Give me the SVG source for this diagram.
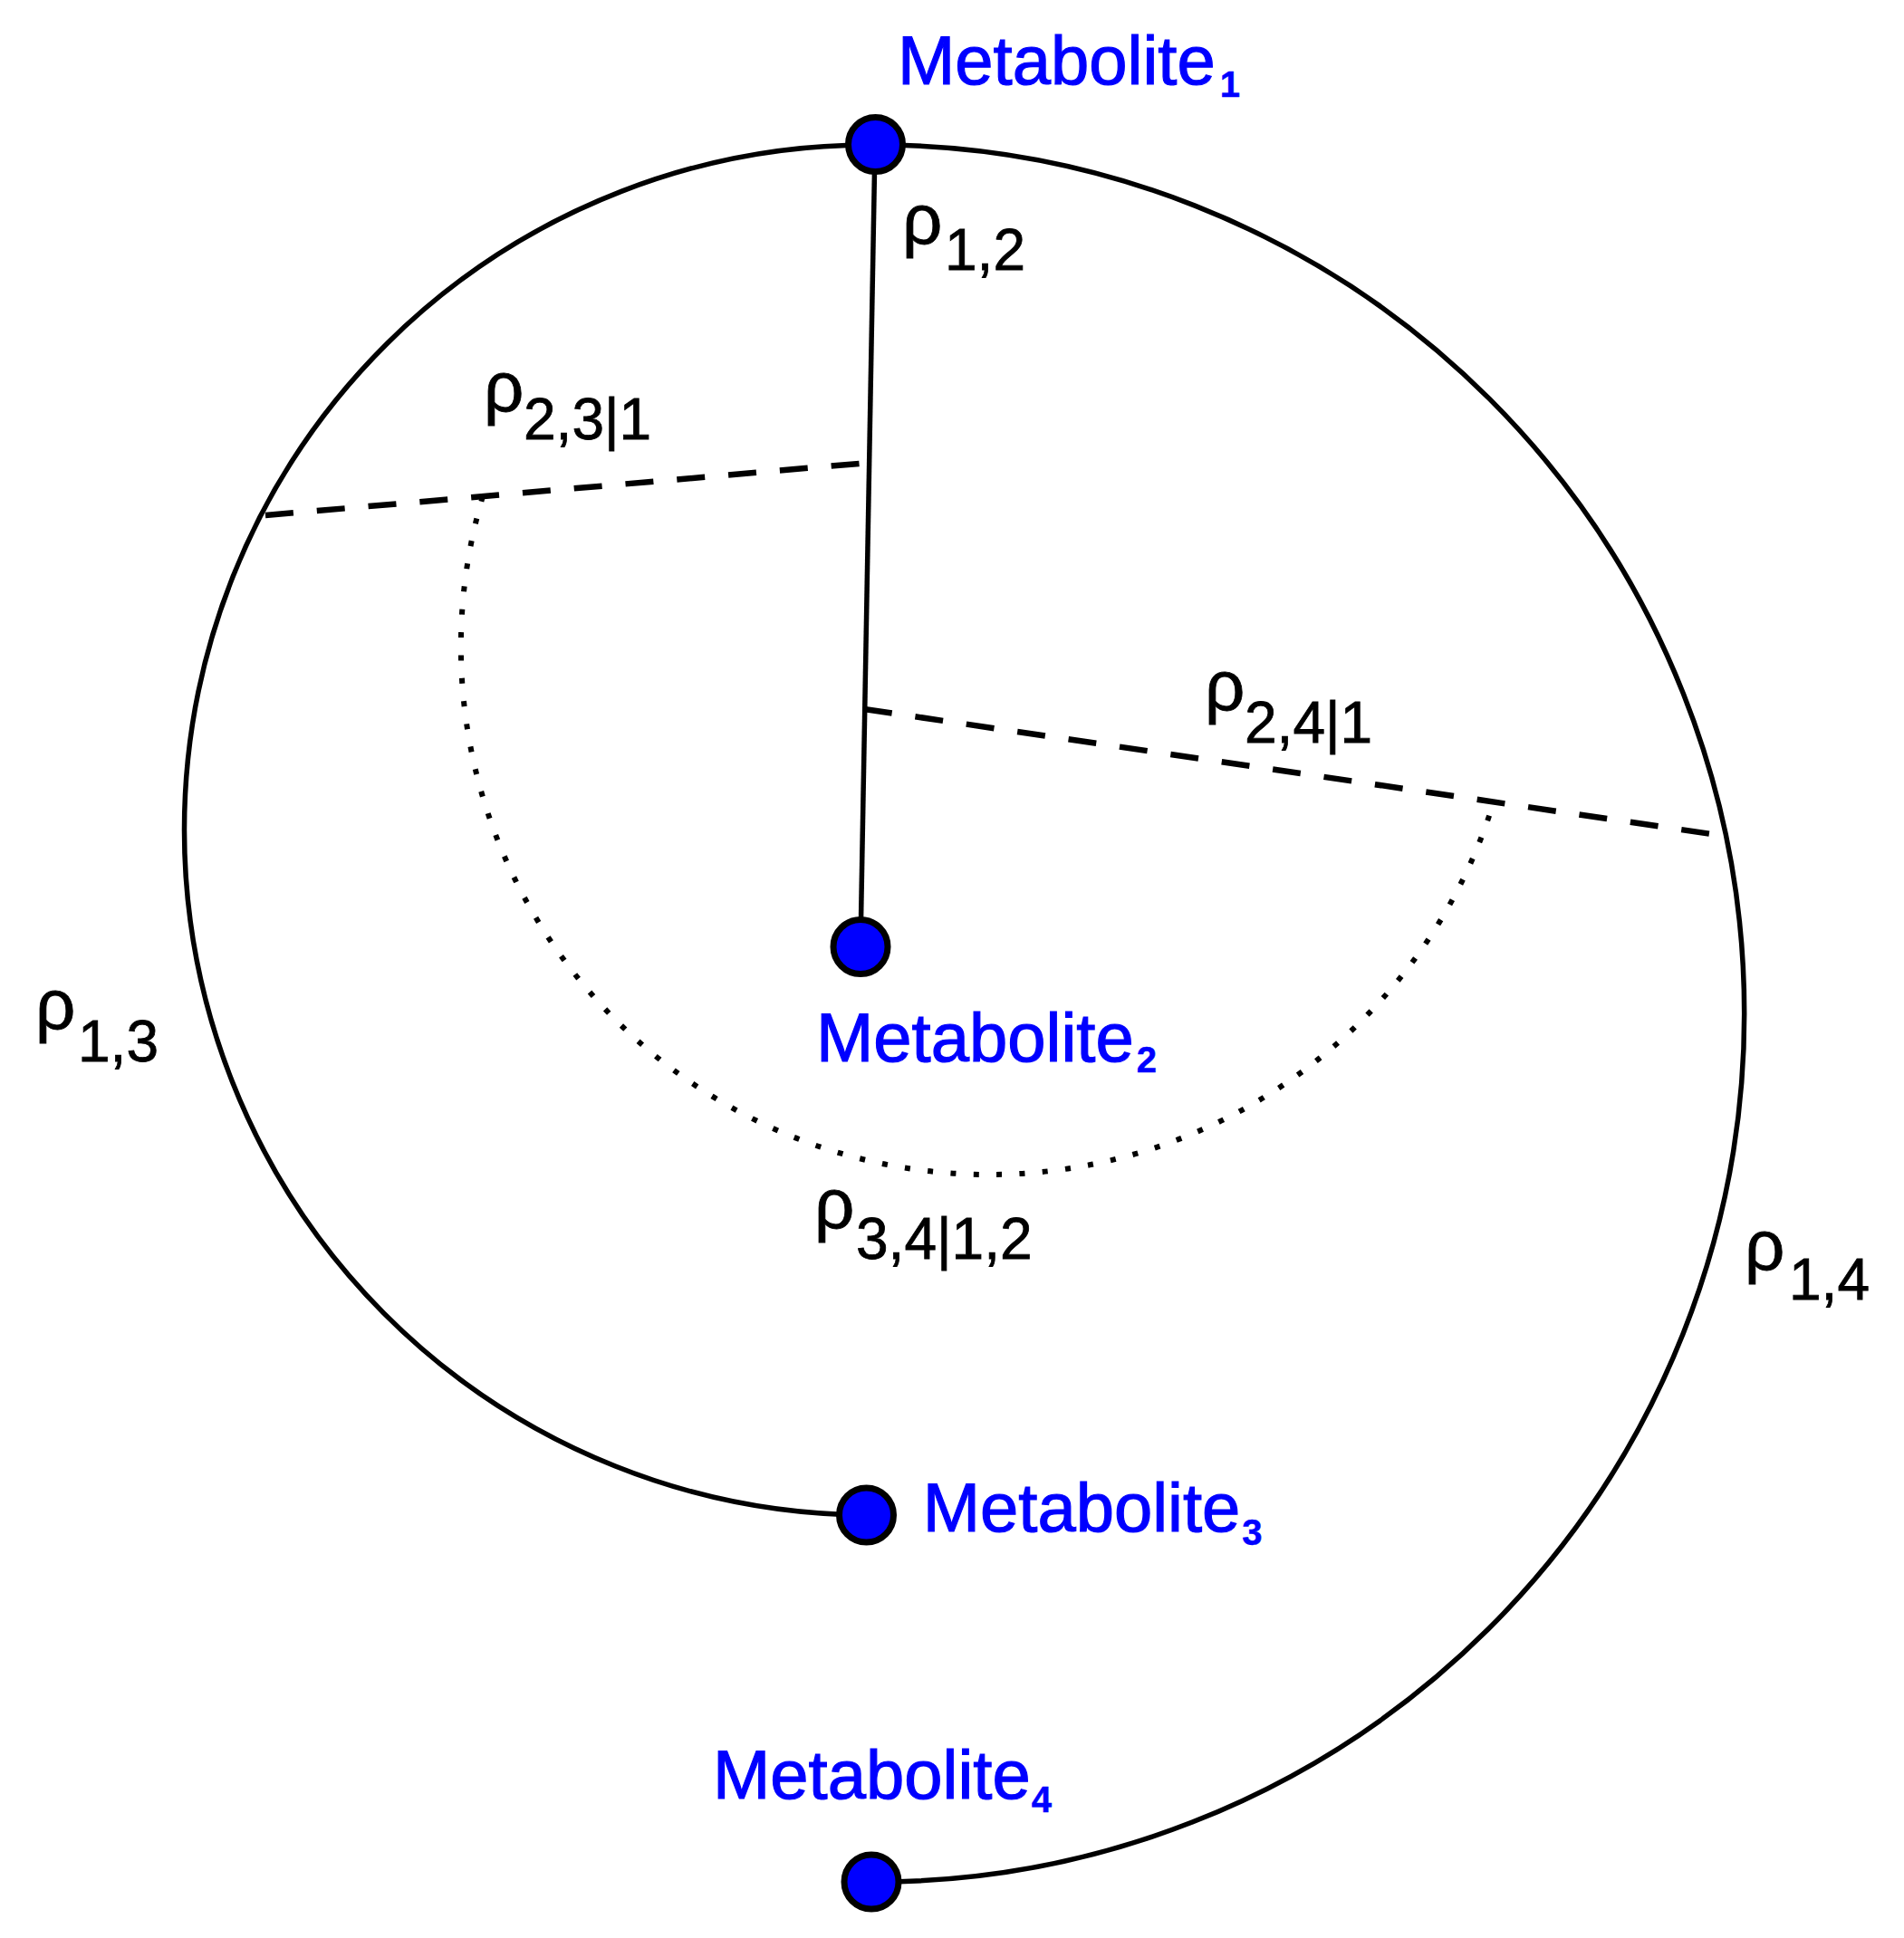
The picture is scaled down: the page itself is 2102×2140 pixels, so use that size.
<svg xmlns="http://www.w3.org/2000/svg" width="2102" height="2140" viewBox="0 0 2102 2140">
<style>
.line{fill:none;stroke:#000;stroke-width:5.5}
.dash{fill:none;stroke:#000;stroke-width:6.5;stroke-dasharray:31 26}
.dot{fill:none;stroke:#000;stroke-width:6;stroke-dasharray:6 19.4}
.node{fill:#0000FF;stroke:#000;stroke-width:7}
.mlab{font-family:"Liberation Sans",Arial,sans-serif;font-size:76px;fill:#0000FF;stroke:#0000FF;stroke-width:1.2}
.msub{font-size:40px;font-weight:bold;stroke-width:0.5}
.rlab{font-family:"Liberation Sans",Arial,sans-serif;font-size:78px;fill:#000;stroke:#000;stroke-width:0.8}
.rsub{font-size:64px}
</style>
<rect width="2102" height="2140" fill="#fff"/>
<g id="connectors">
<path class="line" d="M966 160 A756.5 756.5 0 0 0 203.5 916.5 A756.5 756.5 0 0 0 957 1673"/>
<path class="line" d="M966 160 A959 959 0 0 1 1925.7 1119 A959 959 0 0 1 962 2078"/>
<line class="line" x1="966" y1="160" x2="950" y2="1045"/>
<line class="dash" x1="293" y1="569" x2="959" y2="511"/>
<line class="dash" x1="954" y1="783" x2="1903" y2="923"/>
<path class="dot" d="M533 548 A583 583 0 0 0 1092 1297 A583 583 0 0 0 1649 885.5"/>
</g>
<g id="node-m1">
<circle class="node" cx="966.5" cy="159.5" r="30"/>
<text class="mlab" x="991" y="93">Metabolite<tspan class="msub" dx="5" dy="14">1</tspan></text>
</g>
<g id="node-m2">
<circle class="node" cx="950" cy="1045.5" r="30"/>
<text class="mlab" x="901" y="1172">Metabolite<tspan class="msub" dx="3" dy="12">2</tspan></text>
</g>
<g id="node-m3">
<circle class="node" cx="956.5" cy="1673" r="30"/>
<text class="mlab" x="1018.7" y="1691">Metabolite<tspan class="msub" dx="2" dy="15">3</tspan></text>
</g>
<g id="node-m4">
<circle class="node" cx="962" cy="2078" r="30"/>
<text class="mlab" x="787" y="1986">Metabolite<tspan class="msub" dx="1" dy="15">4</tspan></text>
</g>
<g id="labels">
<text class="rlab"><tspan x="996" y="269">ρ</tspan><tspan class="rsub" x="1043" y="298">1,2</tspan></text>
<text class="rlab"><tspan x="534" y="454">ρ</tspan><tspan class="rsub" x="578" y="485">2,3|1</tspan></text>
<text class="rlab"><tspan x="1330" y="784">ρ</tspan><tspan class="rsub" x="1374" y="820">2,4|1</tspan></text>
<text class="rlab"><tspan x="39" y="1136">ρ</tspan><tspan class="rsub" x="86" y="1172">1,3</tspan></text>
<text class="rlab"><tspan x="899" y="1356">ρ</tspan><tspan class="rsub" x="945" y="1390">3,4|1,2</tspan></text>
<text class="rlab"><tspan x="1926" y="1402">ρ</tspan><tspan class="rsub" x="1975" y="1435">1,4</tspan></text>
</g>
</svg>
